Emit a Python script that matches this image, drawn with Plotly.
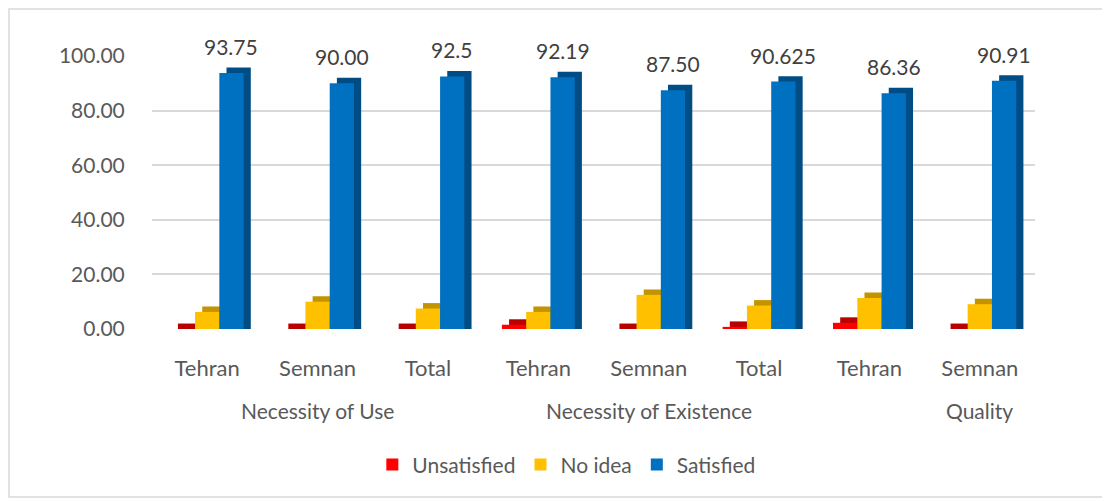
import plotly.graph_objects as go

categories = ["Tehran", "Semnan", "Total", "Tehran", "Semnan", "Total", "Tehran", "Semnan"]
groups = ["Necessity of Use", "Necessity of Existence", "Quality"]
group_pos = [1, 4, 7]
unsatisfied = [0, 0, 0, 1.56, 0, 0.78, 2.27, 0]
no_idea = [6.25, 10.00, 7.5, 6.25, 12.50, 8.59, 11.36, 9.09]
satisfied = [93.75, 90.00, 92.5, 92.19, 87.50, 90.625, 86.36, 90.91]
satisfied_labels = ["93.75", "90.00", "92.5", "92.19", "87.50", "90.625", "86.36", "90.91"]
y_ticks = [0, 20, 40, 60, 80, 100]
y_tick_labels = ["0.00", "20.00", "40.00", "60.00", "80.00", "100.00"]

FONT = "Lato"
GREY = "#595959"
W = 0.22
DX = 0.065
DY = 2.0
x = list(range(len(categories)))

series = [
    ("Unsatisfied", unsatisfied, "#FF0000", "#B80000", -0.33),
    ("No idea", no_idea, "#FFC000", "#C49400", -0.11),
    ("Satisfied", satisfied, "#0070C0", "#004C85", 0.11),
]

fig = go.Figure()
for name, vals, col, dark, off in series:
    fig.add_trace(go.Bar(
        x=x, y=[v + DY for v in vals], base=0, width=W, offset=off + DX,
        marker=dict(color=dark, line=dict(width=0)), showlegend=False, hoverinfo="skip"))
    fig.add_trace(go.Bar(
        x=x, y=vals, width=W, offset=off, name=name,
        marker=dict(color=col, line=dict(width=0))))

annotations = []
for i, (v, t) in enumerate(zip(satisfied, satisfied_labels)):
    annotations.append(dict(x=i + 0.22, y=v, text=t, showarrow=False, yanchor="bottom",
                            yshift=12, font=dict(family=FONT, size=21, color="#404040")))
for g, p in zip(groups, group_pos):
    annotations.append(dict(x=p, y=-0.297, xref="x", yref="paper", text=g, showarrow=False,
                            yanchor="middle", font=dict(family=FONT, size=21, color=GREY)))

fig.update_layout(
    width=1110, height=501,
    margin=dict(l=144, r=83, t=48, b=180),
    barmode="overlay",
    plot_bgcolor="white", paper_bgcolor="white",
    font=dict(family=FONT, size=22, color=GREY),
    xaxis=dict(tickmode="array", tickvals=x, ticktext=categories, range=[-0.5, 7.5],
               showgrid=False, zeroline=False, showline=False,
               ticks="outside", ticklen=20, tickcolor="rgba(0,0,0,0)"),
    yaxis=dict(tickmode="array", tickvals=y_ticks, ticktext=y_tick_labels, range=[0, 100],
               tickfont=dict(size=21),
               showgrid=True, gridcolor="#D9D9D9", gridwidth=1.5, zeroline=False, showline=False,
               ticks="outside", ticklen=22, tickcolor="rgba(0,0,0,0)"),
    legend=dict(orientation="h", xref="container", yref="container", x=0.503, y=0.088,
                xanchor="center", yanchor="middle", font=dict(family=FONT, size=21, color=GREY),
                itemwidth=30),
    annotations=annotations,
    shapes=[dict(type="rect", xref="paper", yref="paper",
                 x0=(1 - 144) / 883, x1=(1097 - 144) / 883,
                 y0=(321 - 489) / 273, y1=(321 - 1) / 273,
                 line=dict(color="#D9D9D9", width=1.5), layer="below")],
)

fig.write_html("out.html")
